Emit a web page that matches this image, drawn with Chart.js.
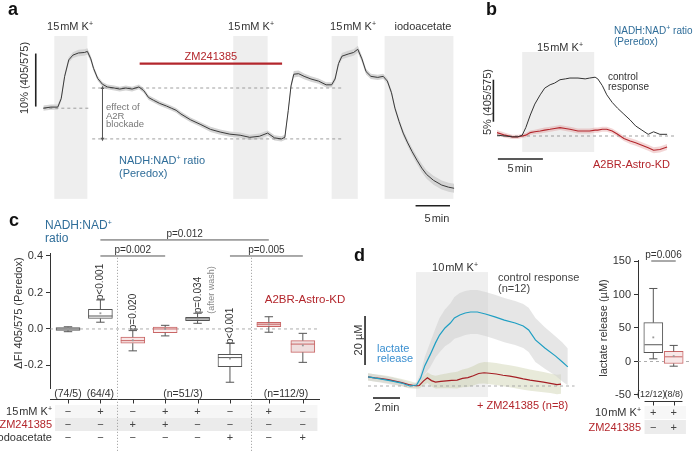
<!DOCTYPE html>
<html>
<head>
<meta charset="utf-8">
<title>Peredox and lactate responses</title>
<script src="https://cdn.jsdelivr.net/npm/chart.js@4.4.1/dist/chart.umd.min.js"></script>
<style>
  body { margin: 0; background: #fff; }
  #fig { position: relative; width: 693px; height: 452px; overflow: hidden; font-family: "Liberation Sans", Arial, sans-serif; color: #333; }
  #fig canvas { position: absolute; }
  .t { position: absolute; white-space: nowrap; line-height: 1; font-size: 11px; }
  .t sup { font-size: 7px; vertical-align: baseline; position: relative; top: -4px; }
</style>
</head>
<body>
<div id="fig">
  <canvas id="chart-a" width="470" height="225" style="left:0;top:0"></canvas>
  <canvas id="chart-b" width="223" height="200" style="left:470px;top:0"></canvas>
  <canvas id="chart-c" width="330" height="252" style="left:0;top:200px"></canvas>
  <canvas id="chart-d" width="245" height="170" style="left:340px;top:250px"></canvas>
  <canvas id="chart-e" width="103" height="252" style="left:590px;top:200px"></canvas>
</div>
<script>
// a: Peredox ratio (% 405/575) against time (min)
const aTime = [0, 1.1, 2.1, 2.6, 3.1, 3.7, 4.3, 5.1, 6.0, 6.4, 6.9, 7.3, 7.9, 8.6, 9.3, 10.3, 11.1, 12.0, 12.9, 13.9,
  14.6, 15.3, 16.0, 16.9, 17.9, 18.6, 19.3, 20.0, 21.4, 22.9, 24.3, 25.7, 27.1, 28.6, 30.0, 31.4, 32.6, 33.6, 34.6, 35.1,
  35.6, 36.0, 36.4, 37.1, 37.9, 38.9, 40.0, 41.1, 41.9, 42.4, 42.9, 43.4, 44.3, 45.1, 45.7, 46.3, 46.9, 47.6, 48.6, 49.4,
  50.0, 50.6, 51.1, 51.7, 52.3, 52.9, 53.6, 54.3, 55.0, 55.7, 56.7, 57.9, 58.9, 59.7];
const aRatio = [0, 0.2, 0.2, 1.8, 6.0, 9.1, 10.0, 10.4, 10.5, 10.7, 9.3, 7.5, 5.6, 4.5, 4.0, 3.8, 3.6, 3.8, 3.6, 4.0,
  3.3, 2.0, 1.5, 0.9, 0.4, 0, -0.4, -1.1, -2.2, -3.1, -4.0, -4.5, -4.9, -5.1, -5.5, -5.3, -4.7, -5.6, -5.8, -5.5,
  -0.4, 4.2, 6.4, 6.5, 6.0, 5.5, 5.1, 4.4, 4.4, 5.5, 8.4, 9.8, 10.2, 10.5, 11.1, 9.3, 6.9, 6.0, 5.8, 6.0,
  5.1, 2.9, 0, -2.5, -4.7, -6.4, -8.2, -9.8, -11.3, -12.5, -13.6, -14.5, -14.9, -15.1];
const aSem = [0.5, 0.5, 0.5, 0.5, 0.5, 0.5, 0.55, 0.6, 0.6, 0.6, 0.55, 0.5, 0.45, 0.45, 0.45, 0.45, 0.45, 0.45, 0.45, 0.45,
  0.45, 0.45, 0.45, 0.45, 0.45, 0.45, 0.45, 0.45, 0.45, 0.45, 0.5, 0.5, 0.5, 0.5, 0.5, 0.5, 0.5, 0.5, 0.5, 0.5,
  0.5, 0.6, 0.6, 0.6, 0.55, 0.5, 0.5, 0.5, 0.5, 0.5, 0.55, 0.6, 0.6, 0.6, 0.65, 0.6, 0.55, 0.5, 0.5, 0.5,
  0.5, 0.5, 0.5, 0.55, 0.6, 0.65, 0.7, 0.75, 0.8, 0.8, 0.85, 0.85, 0.85, 0.85];
const aPulses = [[1.6, 6.4], [27.6, 32.6], [41.9, 45.7], [49.6, 59.6]];
const aZm = [14, 34.7];
const aLevels = [3.8, -5.8];

// b: control vs A2BR-Astro-KD (% 405/575)
const bTime = [0, 0.9, 1.7, 2.3, 2.8, 3.2, 3.7, 4.2, 4.8, 5.3, 5.9, 6.4, 7.0, 7.6, 8.1, 9.0,
  9.8, 10.3, 10.9, 11.2, 11.7, 12.2, 12.8, 13.4, 14.1, 14.8, 15.4, 16.1, 16.8, 17.4, 18.1, 18.9];
const bControl = [0.1, 0, -0.1, -0.1, 0.1, 1.0, 2.5, 3.8, 4.9, 5.7, 6.1, 6.3, 6.7, 6.8, 6.9, 6.9,
  6.8, 6.9, 7.0, 6.8, 6.0, 4.9, 4.0, 3.3, 2.6, 1.9, 1.2, 0.7, 0.2, 0.5, 0.2, 0.2];
const bKD = [0.4, 0.1, -0.1, -0.1, 0.0, 0.1, 0.4, 0.5, 0.6, 0.7, 0.8, 0.9, 1.0, 0.9, 0.8, 0.6,
  0.6, 0.6, 0.7, 0.7, 0.8, 0.8, 0.6, 0.2, -0.3, -0.6, -0.8, -1.1, -1.4, -1.7, -1.6, -1.3];
const bKDSem = [0.3, 0.3, 0.25, 0.25, 0.25, 0.25, 0.25, 0.25, 0.3, 0.3, 0.3, 0.3, 0.3, 0.3, 0.3, 0.3,
  0.3, 0.3, 0.3, 0.3, 0.3, 0.3, 0.3, 0.3, 0.3, 0.35, 0.35, 0.35, 0.35, 0.35, 0.35, 0.35];
const bPulse = [2.8, 10.8];

// c: ΔFI 405/575 box plots
const cPos = [1, 2, 3, 4, 5, 6, 7.2, 8.25];
const cMin = [-0.015, 0.037, -0.12, -0.038, 0.031, -0.292, -0.018, -0.183];
const cQ1 = [-0.008, 0.058, -0.078, -0.02, 0.045, -0.207, 0.013, -0.128];
const cMed = [0.0, 0.071, -0.064, 0.0, 0.055, -0.157, 0.026, -0.083];
const cQ3 = [0.008, 0.108, -0.045, 0.01, 0.064, -0.139, 0.037, -0.064];
const cMax = [0.012, 0.159, -0.009, 0.02, 0.086, -0.078, 0.067, -0.024];
const cMean = [0.001, 0.086, -0.062, 0.001, 0.056, -0.163, 0.025, -0.09];
const cTicks = [-0.2, 0, 0.2, 0.4];
const cBlack = [0, 1, 4, 5];
const cRed = [2, 3, 6, 7];
const cK = ['−', '+', '−', '+', '+', '−', '+', '−'];
const cZM = ['−', '−', '+', '+', '−', '−', '−', '−'];
const cIodo = ['−', '−', '−', '−', '−', '+', '−', '+'];
const cN = [['(74/5)', 1], ['(64/4)', 2], ['(n=51/3)', 4.55], ['(n=112/9)', 7.73]];
const cSig = [['p=0.012', 2, 7.2, 0.488], ['p=0.002', 2, 4, 0.4], ['p=0.005', 6, 8.25, 0.4]];
const cBoxP = [['p&lt;0.001', 2, 282], ['p=0.020', 3, 312], ['p=0.034', 5, 295], ['p&lt;0.001', 6, 326]];

// d: lactate release (µM) against time (min)
const dTime = [0, 0.9, 1.8, 2.5, 3.1, 3.6, 3.9, 4.2, 4.6, 5.0, 5.3, 5.7, 6.1, 6.4, 6.8, 7.2, 7.6, 8.1, 8.7, 9.4,
  10.1, 10.9, 11.5, 11.9, 12.4, 13.1, 13.9, 14.4, 14.8];
const dLactate = [3.7, 2.9, 2.0, 1.2, 0, 0.4, 3.3, 8.2, 12.7, 17.6, 20.8, 23.7, 25.7, 27.8, 29.0, 29.8, 30.2, 30.2, 29.4, 28.2,
  26.9, 25.7, 24.5, 22.9, 18.8, 15.5, 12.2, 9.8, 7.8];
const dSem = [1.5, 1.5, 1.5, 1.2, 0.8, 1.0, 2, 3.5, 5, 6, 7, 7.5, 8, 8.5, 9, 9, 9, 9, 9, 9,
  9, 9, 9, 9, 9, 8.5, 8, 8, 7.5];
const dZmTime = [0, 0.5, 1.0, 1.5, 2.0, 2.5, 3.0, 3.5, 3.8, 4.1, 4.4, 4.7, 5.0, 5.4, 5.8, 6.2, 6.6, 7.0, 7.4, 7.8,
  8.2, 8.6, 9.0, 9.5, 10.0, 10.5, 11.0, 11.5, 12.0, 12.5, 13.0, 13.5, 14.0, 14.3];
const dZm = [3.7, 3.3, 3.0, 2.6, 2.0, 1.4, 0.6, 0.1, 0.2, 2.0, 3.4, 2.2, 1.6, 1.9, 2.1, 2.3, 2.4, 3.1, 3.4, 4.2,
  5.1, 5.4, 5.2, 4.9, 4.4, 4.0, 3.5, 2.9, 2.4, 2.0, 1.6, 1.1, 0.6, 0.8];
const dZmSem = [1.5, 1.5, 1.5, 1.5, 1.5, 1.5, 1.5, 1.2, 1.2, 1.8, 2.2, 2.4, 2.6, 2.8, 3.0, 3.2, 3.4, 3.6, 3.8, 4.0,
  4.2, 4.4, 4.5, 4.5, 4.5, 4.5, 4.5, 4.4, 4.3, 4.2, 4.1, 4.0, 4.0, 4.0];
const dPulse = [3.56, 8.89];

// right of d: lactate release box plots (µM)
const ePos = [1, 2];
const eMin = [4, -7];
const eQ1 = [13, -3];
const eMed = [25, 7];
const eQ3 = [58, 15];
const eMax = [109, 24];
const eMean = [36, 8];
const eTicks = [-50, 0, 50, 100, 150];
const eK = ['+', '+'];
const eZM = ['−', '+'];
const eN = ['(12/12)', '(8/8)'];

Chart.defaults.font.family = '"Liberation Sans", Arial, sans-serif';
Chart.defaults.color = '#333';
const RED = '#b3262c', BLUE = '#2f6d99', CYAN = '#1f9fc3', INK = '#333';

// grey stimulus bands behind the traces
Chart.register({
  id: 'bands',
  beforeDatasetsDraw(chart, args, o) {
    if (!o.ranges) return;
    const { ctx, scales: { x, y } } = chart;
    const top = y.getPixelForValue(o.top), bottom = y.getPixelForValue(o.bottom);
    ctx.save();
    ctx.fillStyle = o.color;
    o.ranges.forEach(([a, b]) => {
      const x0 = x.getPixelForValue(a);
      ctx.fillRect(x0, top, x.getPixelForValue(b) - x0, bottom - top);
    });
    ctx.restore();
  }
});

// detached x axis, condition table shading and group separators of the box plots
Chart.register({
  id: 'frame',
  beforeDatasetsDraw(chart, args, o) {
    if (!o.rows) return;
    const { ctx, scales: { x } } = chart;
    const x0 = x.getPixelForValue(o.rowFrom), x1 = x.getPixelForValue(o.rowTo);
    ctx.save();
    o.rows.forEach(([top, h, color]) => { ctx.fillStyle = color; ctx.fillRect(x0, top, x1 - x0, h); });
    ctx.restore();
  },
  afterDraw(chart, args, o) {
    if (!o.ticks) return;
    const { ctx, chartArea, scales: { x, y } } = chart;
    const ay = Math.round(chartArea.bottom + o.offset) + 0.5;
    ctx.save();
    ctx.strokeStyle = INK;
    ctx.lineWidth = 1;
    ctx.beginPath();
    ctx.moveTo(x.getPixelForValue(o.from), ay);
    ctx.lineTo(x.getPixelForValue(o.to), ay);
    o.ticks.forEach(v => {
      const px = Math.round(x.getPixelForValue(v)) + 0.5;
      ctx.moveTo(px, ay);
      ctx.lineTo(px, ay + 4);
    });
    ctx.stroke();
    if (o.seps) {
      ctx.strokeStyle = '#999';
      ctx.setLineDash([1, 2]);
      ctx.beginPath();
      o.seps.forEach(v => {
        const px = Math.round(x.getPixelForValue(v)) + 0.5;
        ctx.moveTo(px, y.getPixelForValue(o.sepTop));
        ctx.lineTo(px, chart.height);
      });
      ctx.stroke();
    }
    ctx.restore();
  }
});

const pts = (xs, ys) => xs.map((x, i) => ({ x, y: ys[i] }));

function lineSet(data, color, width, extra = {}) {
  return { type: 'line', data, borderColor: color, borderWidth: width, pointRadius: 0, tension: 0, order: 1, ...extra };
}

function envelope(xs, ys, sem, color) {
  const up = xs.map((x, i) => ({ x, y: ys[i] + sem[i] }));
  const dn = xs.map((x, i) => ({ x, y: ys[i] - sem[i] }));
  return [
    lineSet(up, 'transparent', 0, { order: 5 }),
    lineSet(dn, 'transparent', 0, { order: 5, fill: '-1', backgroundColor: color })
  ];
}

const dashed = (x0, x1, v, color = '#888') => lineSet(pts([x0, x1], [v, v]), color, 0.8, { borderDash: [3, 3] });
const scaleBar = (xs, ys) => lineSet(pts(xs, ys), '#222', 1.6, { order: 0 });
const hidden = (min, max) => ({ type: 'linear', display: false, bounds: 'data', min, max });

function traceChart(id, xr, yr, datasets, bands) {
  return new Chart(document.getElementById(id), {
    type: 'line',
    data: { datasets },
    options: {
      responsive: false, animation: false, events: [],
      plugins: { legend: { display: false }, tooltip: { enabled: false }, bands },
      scales: { x: hidden(...xr), y: hidden(...yr) }
    }
  });
}

function boxSets(s, idx, edge, fill, half, cap, thick) {
  const gap = x => ({ x, y: null });
  const whisk = [], meds = [];
  idx.forEach(i => {
    const x = s.pos[i];
    whisk.push({ x, y: s.min[i] }, { x, y: s.q1[i] }, gap(x), { x, y: s.q3[i] }, { x, y: s.max[i] }, gap(x),
      { x: x - cap, y: s.min[i] }, { x: x + cap, y: s.min[i] }, gap(x),
      { x: x - cap, y: s.max[i] }, { x: x + cap, y: s.max[i] }, gap(x));
    meds.push({ x: x - half, y: s.med[i] }, { x: x + half, y: s.med[i] }, gap(x));
  });
  return [
    { type: 'bar', data: idx.map(i => ({ x: s.pos[i], y: [s.q1[i], s.q3[i]] })), backgroundColor: fill,
      borderColor: edge, borderWidth: 1, borderSkipped: false, barThickness: thick, grouped: false, order: 3 },
    lineSet(whisk, '#555', 1, { order: 2 }),
    lineSet(meds, edge, 1, { order: 1 }),
    lineSet(idx.map(i => ({ x: s.pos[i], y: s.mean[i] })), '#999', 0,
      { showLine: false, pointRadius: 1.3, pointStyle: 'rect', pointBackgroundColor: '#999', pointBorderWidth: 0, order: 0 })
  ];
}

function boxOptions(xr, yr, axisWidth, padding, tickValues, fmt, frame) {
  return {
    responsive: false, animation: false, events: [],
    layout: { padding },
    plugins: { legend: { display: false }, tooltip: { enabled: false }, frame },
    scales: {
      x: { ...hidden(...xr), offset: false },
      y: {
        type: 'linear', min: yr[0], max: yr[1], bounds: 'data',
        afterFit: s => { s.width = axisWidth; },
        afterBuildTicks: s => { s.ticks = tickValues.map(value => ({ value })); },
        ticks: { color: INK, font: { size: 11 }, padding: 3, callback: fmt },
        grid: { drawOnChartArea: false, tickLength: 4, color: INK },
        border: { color: INK }
      }
    }
  };
}

const chartA = traceChart('chart-a', [-40 / 7, 430 / 7], [-117 / 5.5, 108 / 5.5], [
  ...envelope(aTime, aRatio, aSem, '#d4d4d4'),
  lineSet(pts(aTime, aRatio), '#3a3a3a', 1),
  lineSet(pts(aZm, [8.4, 8.4]), RED, 2.2),
  dashed(0, 6.9, 0), dashed(7.1, 43.3, aLevels[0]), dashed(7.1, 43.3, aLevels[1]),
  lineSet(pts([8.6, 8.6], aLevels), '#555', 0.8, { pointRadius: 2.2, pointStyle: 'triangle', pointRotation: [0, 180],
    pointBackgroundColor: '#555', pointBorderWidth: 0 }),
  scaleBar([-1.1, -1.1], [0.3, 10.3]), scaleBar([54.1, 59.1], [-18.4, -18.4])
], { ranges: aPulses, top: 13.6, bottom: -17.1, color: '#eeeeee' });

const chartB = traceChart('chart-b', [-3, 196 / 9], [-64 / 8.4, 136 / 8.4], [
  ...envelope(bTime, bKD, bKDSem, 'rgba(214,120,120,0.3)'),
  lineSet(pts(bTime, bControl), '#333', 1),
  lineSet(pts(bTime, bKD), RED, 1.1),
  dashed(0, 19.8, 0),
  scaleBar([-0.4, -0.4], [1.7, 6.7]), scaleBar([0.1, 5.1], [-2.74, -2.74])
], { ranges: [bPulse], top: 10, bottom: -1.9, color: '#eeeeee' });

const cStats = { pos: cPos, min: cMin, q1: cQ1, med: cMed, q3: cQ3, max: cMax, mean: cMean };
const chartC = new Chart(document.getElementById('chart-c'), {
  type: 'bar',
  data: {
    datasets: [
      ...boxSets(cStats, cBlack, '#555', '#fff', 0.37, 0.13, 24),
      ...boxSets(cStats, cRed, '#c96666', ['#f8e6e6', '#fbf0f0', '#f0d2d2', '#efdede'], 0.37, 0.13, 24),
      { ...dashed(0.444, 8.78, 0, '#999'), order: 4 },
      lineSet(cSig.flatMap(([, a, b, v]) => [{ x: a, y: v }, { x: b, y: v }, { x: b, y: null }]), '#555', 1,
        { clip: false, order: 0 })
    ]
  },
  options: boxOptions([0.444, 8.78], [-0.3236, 0.4164], 50, { top: 53, bottom: 64, left: 0, right: 10 }, cTicks,
    v => (Math.abs(v) < 1e-9 ? '0.0' : v.toFixed(1)),
    { ticks: cPos, from: 0.444, to: 8.78, offset: 11, seps: [2.51, 6.65], sepTop: 0.39,
      rows: [[205, 13, '#f6f6f6'], [218, 13, '#ebebeb']], rowFrom: 0.6, rowTo: 8.7 })
});

const chartD = traceChart('chart-d', [-28 / 13.5, 217 / 13.5], [-34 / 2.45, 136 / 2.45], [
  ...envelope(dTime, dLactate, dSem, 'rgba(205,205,205,0.5)'),
  ...envelope(dZmTime, dZm, dZmSem, 'rgba(190,195,150,0.35)'),
  lineSet(pts(dTime, dLactate), CYAN, 1.2),
  lineSet(pts(dZmTime, dZm), '#a51e24', 1.2),
  dashed(0, 15.3, 0, '#999'),
  scaleBar([-0.22, -0.22], [8.6, 28.6]), scaleBar([0.37, 2.37], [-4.9, -4.9])
], { ranges: [dPulse], top: 46.5, bottom: -4.5, color: '#efefef' });

const eStats = { pos: ePos, min: eMin, q1: eQ1, med: eMed, q3: eQ3, max: eMax, mean: eMean };
const chartE = new Chart(document.getElementById('chart-e'), {
  type: 'bar',
  data: {
    datasets: [
      ...boxSets(eStats, [0], '#555', '#fff', 0.43, 0.2, 19),
      ...boxSets(eStats, [1], '#c96666', '#f8e8e8', 0.43, 0.2, 19),
      { ...dashed(0.25, 2.75, 0, '#999'), order: 4 },
      lineSet(pts([0.9, 2.1], [150, 150]), '#555', 1, { clip: false, order: 0 })
    ]
  },
  options: boxOptions([0.25, 2.75], [-53, 151.5], 48, { top: 60, bottom: 55, left: 0, right: 0 }, eTicks, v => v,
    { ticks: ePos, from: 0.57, to: 2.43, offset: 4, rows: [[206, 13, '#f7f7f7'], [220, 14, '#ececec']],
      rowFrom: 0.57, rowTo: 2.6 })
});

// text labels
const fig = document.getElementById('fig');
function label(html, x, y, o = {}) {
  const el = document.createElement('div');
  el.className = 't';
  el.innerHTML = html;
  const tx = o.rot ? '-50%' : { l: '0', c: '-50%', r: '-100%' }[o.a || 'c'];
  el.style.left = x + 'px';
  el.style.top = y + 'px';
  el.style.transform = `translate(${tx},-50%)` + (o.rot ? ' rotate(-90deg)' : '');
  if (o.size) el.style.fontSize = o.size + 'px';
  if (o.color) el.style.color = o.color;
  if (o.bold) el.style.fontWeight = 'bold';
  fig.appendChild(el);
}
const atX = (chart, left, v) => left + chart.scales.x.getPixelForValue(v);
const atY = (chart, top, v) => top + chart.scales.y.getPixelForValue(v);
const K15 = '15&#8202;mM K<sup>+</sup>';
const NADH = 'NADH:NAD<sup>+</sup>';

// a
label('a', 8, 8.5, { a: 'l', size: 18, bold: true, color: '#111' });
[[70, K15], [251, K15], [353, K15], [423, 'iodoacetate']].forEach(([x, t]) => label(t, x, 26));
label('ZM241385', atX(chartA, 0, (aZm[0] + aZm[1]) / 2), 56, { color: RED });
label('10% (405/575)', 24, 78, { rot: true });
['effect of', 'A2R', 'blockade'].forEach((t, i) => label(t, 106, 107 + 8.7 * i, { a: 'l', size: 9.5, color: '#777' }));
label(NADH + ' ratio', 119, 160, { a: 'l', color: BLUE });
label('(Peredox)', 119, 172.5, { a: 'l', color: BLUE });
label('5&#8202;min', 437, 218);

// b
label('b', 486, 9, { a: 'l', size: 18, bold: true, color: '#111' });
label(NADH + ' ratio', 614, 31, { a: 'l', size: 10, color: BLUE });
label('(Peredox)', 614, 42, { a: 'l', size: 10, color: BLUE });
label(K15, 560, 47);
label('5% (405/575)', 487, 102, { rot: true });
label('control', 608, 77, { a: 'l', size: 10 });
label('response', 608, 86.5, { a: 'l', size: 10 });
label('A2BR-Astro-KD', 593, 164, { a: 'l', color: RED });
label('5&#8202;min', 520, 168);

// c
label('c', 9, 219.5, { a: 'l', size: 18, bold: true, color: '#111' });
label(NADH, 45, 225, { a: 'l', size: 12, color: BLUE });
label('ratio', 45, 238, { a: 'l', size: 12, color: BLUE });
label('ΔFI 405/575 (Peredox)', 18, 313, { rot: true });
cSig.forEach(([t, a, b, v]) => label(t, atX(chartC, 0, (a + b) / 2), atY(chartC, 200, v) - 5.5, { size: 10 }));
cBoxP.forEach(([t, v, y]) => label(t, atX(chartC, 0, v), y, { rot: true, size: 10 }));
label('(after wash)', atX(chartC, 0, 5) + 13, 290, { rot: true, size: 9, color: '#888' });
label('A2BR-Astro-KD', 305, 300, { color: RED, size: 11.5 });
cN.forEach(([t, v]) => label(t, atX(chartC, 0, v), 393, { size: 10.5 }));
[['15&#8202;mM K<sup>+</sup>', INK], ['ZM241385', RED], ['iodoacetate', INK]].forEach(([t, c], r) => label(t, 52, 411 + 13 * r, { a: 'r', color: c }));
[cK, cZM, cIodo].forEach((row, r) => row.forEach((s, i) => label(s, atX(chartC, 0, cPos[i]), 411 + 13 * r, { color: '#444' })));

// d
label('d', 354, 255, { a: 'l', size: 18, bold: true, color: '#111' });
label('10&#8202;mM K<sup>+</sup>', 455, 267);
label('control response', 498, 277, { a: 'l', color: '#444' });
label('(n=12)', 498, 288, { a: 'l', color: '#444' });
label('20 µM', 358, 340, { rot: true });
label('lactate', 377, 348, { a: 'l', color: '#3a8fd0' });
label('release', 377, 358, { a: 'l', color: '#3a8fd0' });
label('2&#8202;min', 387, 407);
label('+ ZM241385 (n=8)', 477, 405, { a: 'l', color: RED });

// lactate box plots
label('p=0.006', atX(chartE, 590, 1.5), atY(chartE, 200, 150) - 6, { size: 10 });
label('lactate release (µM)', 603, 328, { rot: true });
eN.forEach((t, i) => label(t, atX(chartE, 590, ePos[i]) - 2 + 2 * i, 394, { size: 9 }));
label('10&#8202;mM K<sup>+</sup>', 641, 412, { a: 'r' });
label('ZM241385', 641, 427, { a: 'r', color: RED });
[eK, eZM].forEach((row, r) => row.forEach((s, i) => label(s, atX(chartE, 590, ePos[i]), 412 + 15 * r, { color: '#444' })));
</script>
</body>
</html>
